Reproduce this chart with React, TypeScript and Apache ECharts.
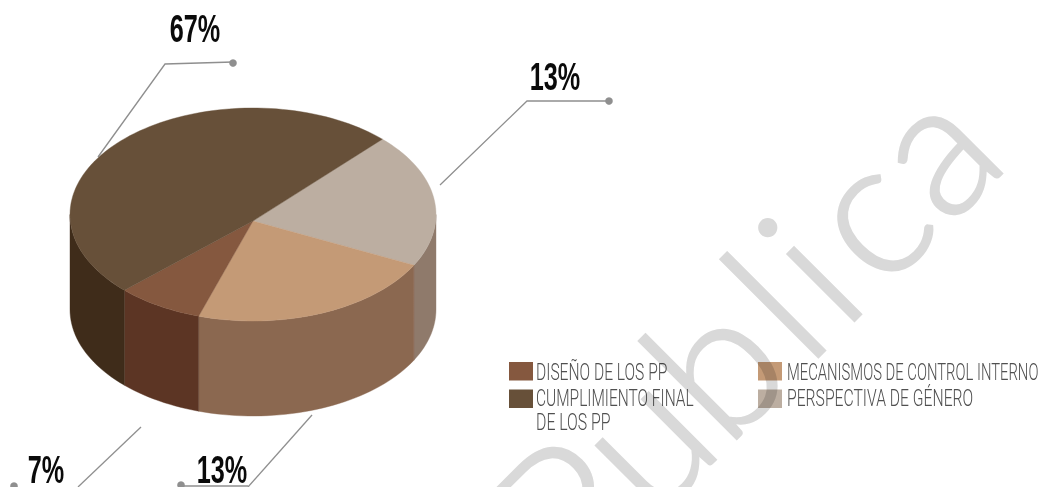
import React, { useEffect, useRef } from "react";
import * as echarts from "echarts";

const categories = ["PERSPECTIVA DE GÉNERO", "MECANISMOS DE CONTROL INTERNO", "DISEÑO DE LOS PP", "CUMPLIMIENTO FINAL DE LOS PP"];
// share of the drawn disc taken by every slice
const drawnShares = [20.4, 21.9, 7.6, 50.1];
const topColors = ["#bcaea1", "#c49a76", "#85583f", "#675039"];
const sideColors = ["#8f7a6b", "#8b6850", "#5c3524", "#3f2c1a"];
const percentLabels = ["13%", "13%", "7%", "67%"];
const watermarkLetters = ["P", "u", "b", "l", "i", "c", "a"];

const CX = 253, CY = 214.5, RX = 183, RY = 106.5, DEPTH = 95, HUB_Y = 221, START = -45;
const FONT = "'Liberation Sans Narrow', 'Liberation Sans', sans-serif";
const GREY = "#8f8f8f";
const WM_COLOR = "#d9d9d9";

const pt = (deg: number, dy = 0) => {
  const a = (deg * Math.PI) / 180;
  return [CX + RX * Math.cos(a), CY + RY * Math.sin(a) + dy];
};
const arc = (from: number, to: number, dy = 0) => {
  const out: number[][] = [];
  const n = Math.max(2, Math.ceil(Math.abs(to - from) / 2));
  for (let i = 0; i <= n; i++) out.push(pt(from + ((to - from) * i) / n, dy));
  return out;
};

function renderItem(params: any, api: any) {
  const i = params.dataIndex;
  const total = drawnShares.reduce((s, v) => s + v, 0);
  const before = drawnShares.slice(0, i).reduce((s, v) => s + v, 0);
  const a0 = START + (before / total) * 360;
  const a1 = a0 + (api.value(0) / total) * 360;
  const children: any[] = [];
  const s0 = Math.max(a0, 0), s1 = Math.min(a1, 180);
  if (s1 > s0) {
    children.push({
      type: "polygon",
      shape: { points: [...arc(s0, s1), ...arc(s1, s0, DEPTH)] },
      style: { fill: sideColors[i], stroke: sideColors[i], lineWidth: 0.4 },
    });
  }
  children.push({
    type: "polygon",
    shape: { points: [[CX, HUB_Y], ...arc(a0, a1)] },
    style: { fill: topColors[i], stroke: topColors[i], lineWidth: 0.4 },
  });
  return { type: "group", children };
}

const leader = (points: number[][]) => ({
  type: "polyline",
  shape: { points },
  style: { fill: "none", stroke: GREY, lineWidth: 1.3 },
});
const dot = (x: number, y: number) => ({ type: "circle", shape: { cx: x, cy: y, r: 3.8 }, style: { fill: GREY } });
const pct = (text: string, x: number, y: number) => ({
  type: "text",
  x,
  y,
  scaleX: 0.664,
  style: { text, fill: "#0a0a0a", font: `bold 38px ${FONT}`, lineHeight: 30, align: "center", verticalAlign: "middle" },
});
const legendText = (text: string, x: number, y: number, sx: number) => ({
  type: "text",
  x,
  y,
  scaleX: sx,
  style: { text, fill: "#505050", font: `300 24px Roboto, ${FONT}`, align: "left", verticalAlign: "middle" },
});
const swatch = (color: string, x: number, y: number) => ({
  type: "rect",
  shape: { x, y, width: 24, height: 18.5 },
  style: { fill: color },
});
const WM_OFF = 17.5;
const wm = (letter: string, bx: number) => ({
  type: "text",
  x: bx + WM_OFF,
  y: 1170 - bx + WM_OFF,
  rotation: Math.PI / 4,
  z: 100,
  style: {
    text: letter,
    fill: WM_COLOR,
    stroke: WM_COLOR,
    lineWidth: 2.5,
    font: "300 190px Lato, sans-serif",
    align: "center",
    verticalAlign: "bottom",
  },
});

export default function App() {
  const ref = useRef<HTMLDivElement>(null);
  useEffect(() => {
    document.body.style.margin = "0";
    const chart = echarts.init(ref.current!, undefined, { renderer: "svg" });
    const wmAnchors = [612, 687, 760, 819, 855, 911, 977];
    chart.setOption({
      animation: false,
      backgroundColor: "#ffffff",
      series: [
        {
          type: "custom",
          coordinateSystem: "none",
          renderItem,
          silent: true,
          data: drawnShares.map((v, i) => ({ name: categories[i], value: [v] })),
        },
      ],
      graphic: {
        elements: [
          leader([[98, 157], [165, 64], [233, 62]]),
          dot(233, 63),
          leader([[440, 185], [527, 101], [609, 101]]),
          dot(609, 101),
          leader([[141, 427], [78, 487]]),
          dot(14, 486),
          leader([[312, 415], [248, 487]]),
          leader([[181, 486], [248, 486]]),
          dot(181, 485),
          pct(percentLabels[3], 195, 29),
          pct(percentLabels[0], 555, 77),
          pct(percentLabels[2], 46, 470),
          pct(percentLabels[1], 222, 470),
          swatch(topColors[2], 509, 362),
          swatch(topColors[3], 509, 389.5),
          swatch(topColors[1], 758, 362),
          swatch(topColors[0], 758, 389.5),
          legendText("DISEÑO DE LOS PP", 536, 372, 0.65),
          legendText("CUMPLIMIENTO FINAL", 536, 398, 0.645),
          legendText("DE LOS PP", 536, 422, 0.66),
          legendText(categories[1], 787, 372, 0.617),
          legendText(categories[0], 787, 398, 0.655),
          ...watermarkLetters.map((l, i) => wm(l, wmAnchors[i])),
        ],
      },
    });
    // the watermark darkens what lies under it, as a multiply layer
    ref.current!.querySelectorAll("text").forEach((t) => {
      if (t.getAttribute("fill") === WM_COLOR) (t as any).style.mixBlendMode = "multiply";
    });
    return () => chart.dispose();
  }, []);
  return <div ref={ref} style={{ width: 1050, height: 487 }} />;
}
